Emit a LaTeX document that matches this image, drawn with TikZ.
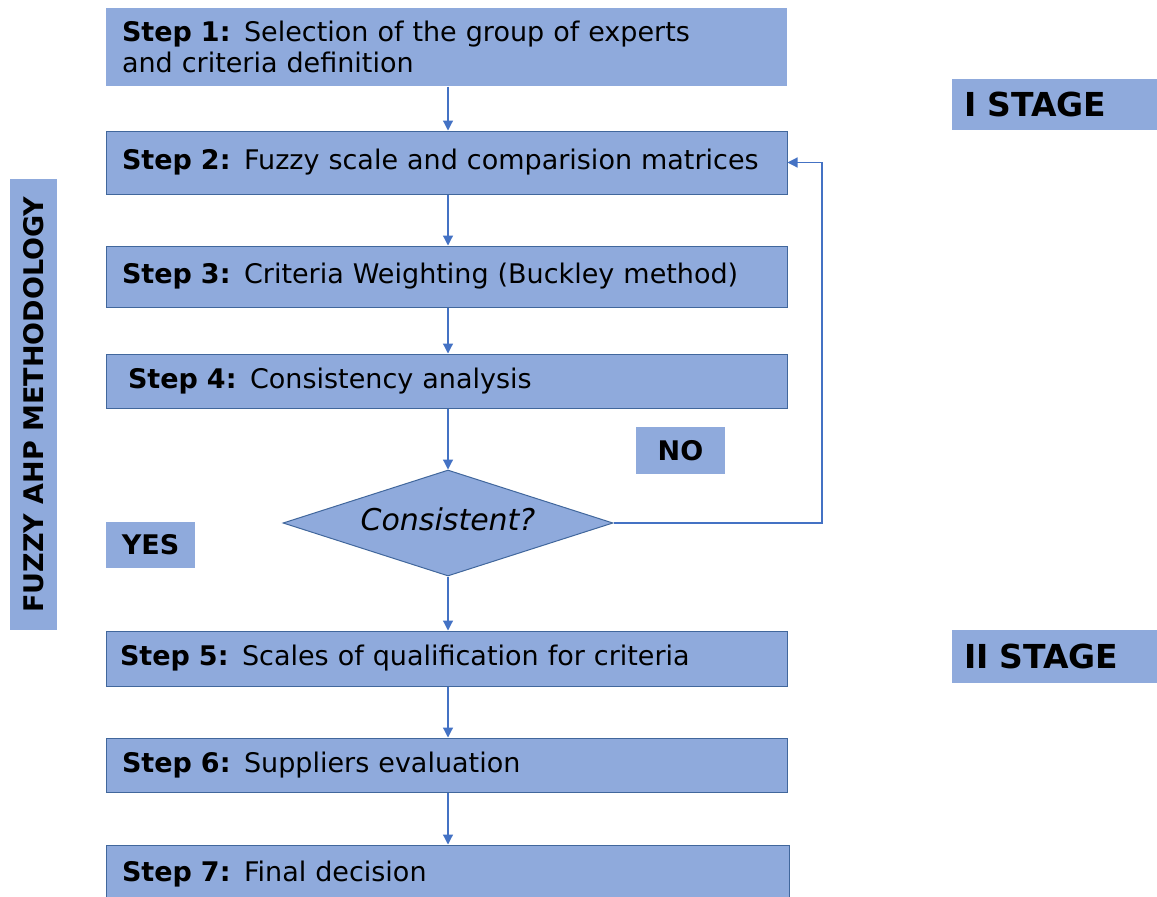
\documentclass[tikz,border=0pt]{standalone}
\usepackage{fontspec}
\setmainfont{DejaVu Sans}
\usetikzlibrary{shapes.geometric,arrows.meta}
\definecolor{boxfill}{HTML}{8FAADC}
\definecolor{boxline}{HTML}{41679C}
\definecolor{arrowc}{HTML}{4472C4}
\tikzset{
  stepbox/.style={rectangle, fill=boxfill, draw=boxline, line width=1pt, text width=649pt, inner xsep=16pt, inner ysep=0pt, align=left, font=\fontsize{27}{31}\selectfont, anchor=center},
  tagbox/.style={rectangle, fill=boxfill, inner sep=0pt, font=\bfseries\fontsize{27}{31}\selectfont},
  flow/.style={draw=arrowc, line width=1.2pt, -{Triangle[length=10pt,width=10pt]}},
}
\begin{document}
\begin{tikzpicture}[x=1pt,y=-1pt]
\clip (0,0) rectangle (1157,897);
\fill[white] (0,0) rectangle (1157,897);
\node[stepbox, draw=none, minimum height=78pt] (s1) at (446.5,47) {\textbf{Step 1:} Selection of the group of experts\\and criteria definition};
\node[stepbox, minimum height=63pt] (s2) at (446.5,162.5) {\textbf{Step 2:} Fuzzy scale and comparision matrices};
\node[stepbox, minimum height=61pt] (s3) at (446.5,276.5) {\textbf{Step 3:} Criteria Weighting (Buckley method)};
\node[stepbox, minimum height=54pt] (s4) at (446.5,381) {\hspace*{6pt}\textbf{Step 4:} Consistency analysis};
\node[diamond, fill=boxfill, draw=boxline, line width=1pt, minimum width=330pt, minimum height=106pt, inner sep=0pt, aspect=3.1, font=\itshape\fontsize{30}{34}\selectfont] (d) at (448,523) {\raisebox{8pt}{Consistent?}};
\node[stepbox, minimum height=55pt] (s5) at (446.5,658.5) {\hspace*{-2pt}\textbf{Step 5:} Scales of qualification for criteria};
\node[stepbox, minimum height=54pt] (s6) at (446.5,765) {\textbf{Step 6:} Suppliers evaluation};
\node[stepbox, minimum height=58pt, text width=651pt] (s7) at (447.5,874) {\textbf{Step 7:} Final decision};
\node[tagbox, minimum width=89pt, minimum height=47pt] (no) at (680.5,450.5) {NO};
\node[tagbox, minimum width=89pt, minimum height=46pt] (yes) at (150.5,545) {YES};
\node[tagbox, minimum width=205pt, minimum height=51pt, text width=181pt, align=left, inner xsep=12pt, font=\bfseries\fontsize{33}{36}\selectfont] (st1) at (1054.5,104.5) {I STAGE};
\node[tagbox, minimum width=205pt, minimum height=53pt, text width=181pt, align=left, inner xsep=12pt, font=\bfseries\fontsize{33}{36}\selectfont] (st2) at (1054.5,656.5) {II STAGE};
\node[tagbox, minimum width=451pt, minimum height=47pt, rotate=90, font=\bfseries\fontsize{27}{31}\selectfont] (fz) at (33.5,404.5) {FUZZY AHP METHODOLOGY};
\draw[flow] (s1.south -| d.north) -- (s2.north -| d.north);
\draw[flow] (s2.south -| d.north) -- (s3.north -| d.north);
\draw[flow] (s3.south -| d.north) -- (s4.north -| d.north);
\draw[flow] (s4.south -| d.north) -- (d.north);
\draw[flow] (d.south) -- (s5.north -| d.south);
\draw[flow] (s5.south -| d.south) -- (s6.north -| d.south);
\draw[flow] (s6.south -| d.south) -- (s7.north -| d.south);
\coordinate (loopc) at (822,0);
\draw[flow] (d.east) -- (d.east -| loopc) -- (s2.east -| loopc) -- (s2.east);
\end{tikzpicture}
\end{document}
